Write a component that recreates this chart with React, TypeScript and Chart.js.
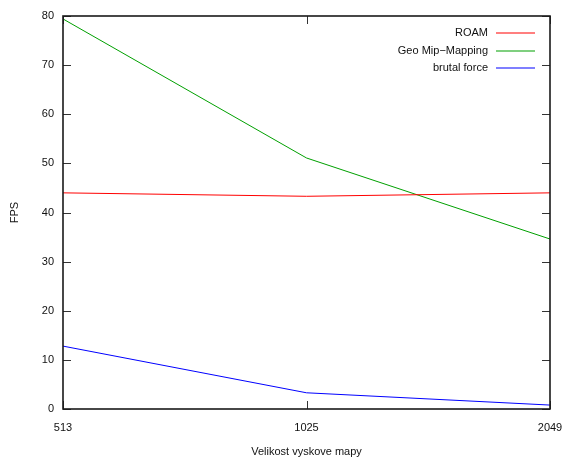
import React, { useEffect, useRef } from "react";
import { Chart, registerables } from "chart.js";

Chart.register(...registerables);

// Heightmap sizes on the x axis
const mapSizes = ["513", "1025", "2049"];

// Frames per second for each terrain algorithm
const roamFps = [44.0, 43.3, 44.0];
const geoMipMappingFps = [79.4, 51.1, 34.6];
const bruteForceFps = [12.8, 3.3, 0.8];

const seriesNames = ["ROAM", "Geo Mip\u2212Mapping", "brutal force"];
const seriesColors = ["#ff0000", "#00a000", "#0000ff"];

const yTicks = [0, 10, 20, 30, 40, 50, 60, 70, 80];

const FONT = '"Liberation Sans", Arial, Helvetica, sans-serif';

// Gnuplot-like frame: border, mirrored inward ticks and a key in the top-right corner
const framePlugin = {
  id: "gnuplotFrame",
  afterDatasetsDraw(chart: any) {
    const { ctx, chartArea } = chart;
    const { left, right, top, bottom } = chartArea;
    const xScale = chart.scales.x;
    const yScale = chart.scales.y;
    const tick = 8;
    ctx.save();

    // inward ticks on all four sides
    ctx.strokeStyle = "#333";
    ctx.lineWidth = 1;
    ctx.beginPath();
    yTicks.forEach((v) => {
      const y = Math.round(yScale.getPixelForValue(v)) + 0.5;
      ctx.moveTo(left, y);
      ctx.lineTo(left + tick, y);
      ctx.moveTo(right, y);
      ctx.lineTo(right - tick, y);
    });
    mapSizes.forEach((_, i) => {
      const x = Math.round(xScale.getPixelForValue(i)) + 0.5;
      ctx.moveTo(x, bottom);
      ctx.lineTo(x, bottom - tick);
      ctx.moveTo(x, top);
      ctx.lineTo(x, top + tick);
    });
    ctx.stroke();

    // border
    ctx.strokeStyle = "#1a1a1a";
    ctx.lineWidth = 1.6;
    ctx.strokeRect(left, top, right - left, bottom - top);

    // key
    ctx.font = `11px ${FONT}`;
    ctx.textAlign = "right";
    ctx.textBaseline = "middle";
    const textRight = right - 62;
    const lineStart = right - 54;
    const lineEnd = right - 15;
    seriesNames.forEach((name, i) => {
      const y = top + 17 + i * 17.5;
      ctx.fillStyle = "#111";
      ctx.fillText(name, textRight, y);
      ctx.strokeStyle = seriesColors[i];
      ctx.lineWidth = 1.2;
      ctx.beginPath();
      ctx.moveTo(lineStart, Math.round(y));
      ctx.lineTo(lineEnd, Math.round(y));
      ctx.stroke();
    });
    ctx.restore();
  },
};

export default function App() {
  const canvasRef = useRef<HTMLCanvasElement | null>(null);

  useEffect(() => {
    const canvas = canvasRef.current;
    if (!canvas) return;
    const seriesValues = [roamFps, geoMipMappingFps, bruteForceFps];
    const chart = new Chart(canvas, {
      type: "line",
      data: {
        labels: mapSizes,
        datasets: seriesValues.map((values, i) => ({
          label: seriesNames[i],
          data: values,
          borderColor: seriesColors[i],
          backgroundColor: seriesColors[i],
          borderWidth: 1,
          pointRadius: 0,
          tension: 0,
          fill: false,
        })),
      },
      options: {
        animation: false,
        responsive: false,
        events: [],
        layout: { padding: { left: 0, right: 12, top: 16, bottom: 0 } },
        plugins: {
          legend: { display: false },
          tooltip: { enabled: false },
        },
        scales: {
          x: {
            type: "category",
            offset: false,
            grid: { display: false, drawTicks: false },
            border: { display: false },
            ticks: {
              padding: 12,
              color: "#111",
              font: { family: FONT, size: 11 },
              maxRotation: 0,
              autoSkip: false,
            },
            title: {
              display: true,
              text: "Velikost vyskove mapy",
              color: "#111",
              font: { family: FONT, size: 11 },
              padding: { top: 0, bottom: 0 },
            },
            afterFit: (scale: any) => {
              scale.height = 50;
              scale.paddingLeft = 0;
              scale.paddingRight = 0;
            },
          },
          y: {
            min: 0,
            max: 80,
            grid: { display: false, drawTicks: false },
            border: { display: false },
            ticks: {
              stepSize: 10,
              padding: 9,
              color: "#111",
              font: { family: FONT, size: 11 },
            },
            title: {
              display: true,
              text: "FPS",
              color: "#111",
              font: { family: FONT, size: 11 },
              padding: { top: 8, bottom: 0 },
            },
            afterFit: (scale: any) => {
              scale.width = 63;
              scale.paddingTop = 0;
              scale.paddingBottom = 0;
            },
          },
        },
      },
      plugins: [framePlugin],
    });
    return () => chart.destroy();
  }, []);

  return (
    <div style={{ position: "fixed", left: 0, top: 0, width: 562, height: 459, background: "#fff" }}>
      <canvas ref={canvasRef} width={562} height={459} />
    </div>
  );
}
